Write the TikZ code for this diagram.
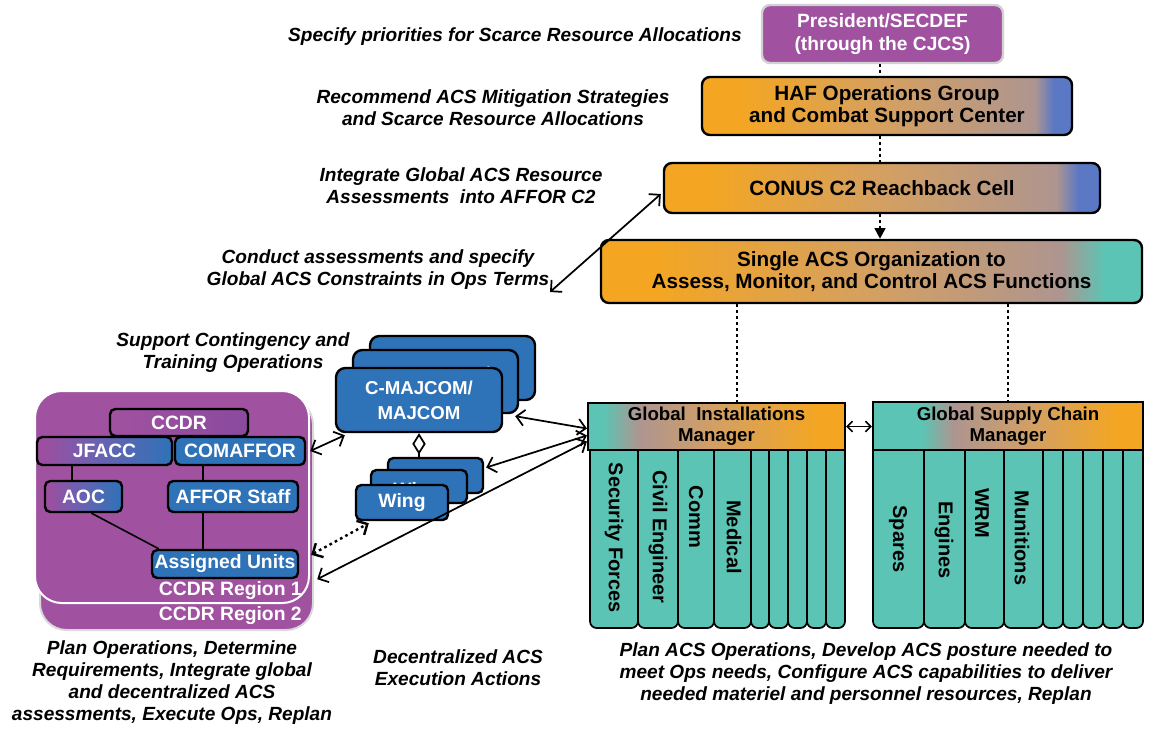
\documentclass[tikz,border=0pt]{standalone}
\usepackage{fontspec}
\setmainfont{Liberation Sans}
\usetikzlibrary{arrows.meta,calc}
\definecolor{cPurple}{HTML}{A052A0}
\definecolor{cCcdr}{HTML}{8A4A9E}
\definecolor{cBlue}{HTML}{2E72B8}
\definecolor{cTeal}{HTML}{5CC4B4}
\definecolor{cOr}{HTML}{F4A622}
\definecolor{cTan}{HTML}{D4A062}
\definecolor{cMauve}{HTML}{AE9590}
\definecolor{cSlate}{HTML}{5B78C4}
\definecolor{cJpur}{HTML}{A24C9E}
\definecolor{cJmid}{HTML}{7060B0}
\pgfdeclarehorizontalshading{hafshade}{100bp}{color(0bp)=(cOr); color(30bp)=(cOr); color(50bp)=(cTan); color(70bp)=(cMauve); color(72.5bp)=(cSlate); color(100bp)=(cSlate)}
\pgfdeclarehorizontalshading{acsshade}{100bp}{color(0bp)=(cOr); color(30bp)=(cOr); color(50bp)=(cTan); color(67.5bp)=(cMauve); color(71.5bp)=(cTeal); color(100bp)=(cTeal)}
\pgfdeclarehorizontalshading{gimshade}{100bp}{color(0bp)=(cTeal); color(28bp)=(cTeal); color(35bp)=(cMauve); color(50bp)=(cTan); color(70bp)=(cOr); color(100bp)=(cOr)}
\pgfdeclarehorizontalshading{gscshade}{100bp}{color(0bp)=(cTeal); color(34bp)=(cTeal); color(40bp)=(cMauve); color(55bp)=(cTan); color(70bp)=(cOr); color(100bp)=(cOr)}
\pgfdeclarehorizontalshading{jshade}{100bp}{color(0bp)=(cJpur); color(25bp)=(cJpur); color(45bp)=(cJmid); color(75bp)=(cBlue); color(100bp)=(cBlue)}
\pgfdeclarehorizontalshading{cshade}{100bp}{color(0bp)=(cPurple); color(25bp)=(cPurple); color(75bp)=(cCcdr); color(100bp)=(cCcdr)}
\tikzset{
  box/.style={draw=black, line width=1.8pt, rounded corners=6pt, inner sep=0pt, align=center,
    font=\bfseries\fontsize{15.5}{17}\selectfont},
  smallbox/.style={box, rounded corners=4pt, font=\bfseries\fontsize{14.5}{16}\selectfont},
  bluebox/.style={smallbox, fill=cBlue, text=white},
  lab/.style={font=\bfseries\itshape\fontsize{14.3}{16.5}\selectfont, align=center, inner sep=0pt},
  link/.style={line width=1.3pt, {Straight Barb[length=6pt,width=12pt]}-{Straight Barb[length=6pt,width=12pt]}},
  dots/.style={line width=1.8pt, dash pattern=on 2pt off 2.5pt},
  col/.style={draw=black, line width=1.3pt, fill=cTeal, rounded corners=5pt, inner sep=0pt},
  coltext/.style={rotate=-90, font=\bfseries\fontsize{15}{16}\selectfont, inner sep=0pt},
  hdr/.style={draw=black, line width=1.6pt, shade, inner sep=0pt, align=center,
    font=\bfseries\fontsize{14}{15.5}\selectfont},
  tree/.style={line width=1.2pt},
}
% \bx{name}{style}{x1}{y1}{x2}{y2}{text}  -- a node covering the pixel box
\newcommand{\bx}[7]{\node[#2, minimum width={(#5-#3)*0.75pt}, minimum height={(#6-#4)*0.75pt}]
  (#1) at ({(#3+#5)/2},{(#4+#6)/2}) {#7};}
\begin{document}
\begin{tikzpicture}[x=0.75pt,y=-0.75pt]
\useasboundingbox[fill=white] (0,0) rectangle (1151,729);

% ---------- top chain ----------
\bx{pres}{box, fill=cPurple, draw=black!18, text=white, font=\bfseries\fontsize{14.4}{17}\selectfont}{762}{5}{1003}{63}{President/SECDEF\\(through the CJCS)}
\bx{haf}{box, shade, shading=hafshade}{702}{77}{1072}{135}{HAF Operations Group\\and Combat Support Center}
\bx{conus}{box, shade, shading=hafshade}{664}{163}{1100}{213}{CONUS C2 Reachback Cell}
\bx{acs}{box, shade, shading=acsshade}{601}{240}{1142}{303}{Single ACS Organization to\\Assess, Monitor, and Control ACS Functions}

\coordinate (xm) at (880,0);
\coordinate (xg) at (737,0);
\coordinate (xs) at (1008,0);
\draw[dots] (pres.south -| xm) -- (haf.north -| xm);
\draw[dots] (haf.south -| xm) -- (conus.north -| xm);
\draw[dots, -{Triangle[length=8pt,width=8pt]}] (conus.south -| xm) -- (acs.north -| xm);

% ---------- italic labels ----------
\node[lab] (l1) at (515,37) {Specify priorities for Scarce Resource Allocations};
\node[lab] (l2) at (493,108) {Recommend ACS Mitigation Strategies\\and Scarce Resource Allocations};
\node[lab] (l3) at (461,186) {Integrate Global ACS Resource\\Assessments\ \ into AFFOR C2};
\node[lab] (l4) at (378,270) {Conduct assessments and specify\\Global ACS Constraints in Ops Terms};
\node[lab] (l5) at (233,353) {Support Contingency and\\Training Operations};
\node[lab] (l6) at (172,683) {Plan Operations, Determine\\Requirements, Integrate global\\and decentralized ACS\\assessments, Execute Ops, Replan};
\node[lab] (l7) at (458,668) {Decentralized ACS\\Execution Actions};
\node[lab] (l8) at (866,674) {Plan ACS Operations, Develop ACS posture needed to\\meet Ops needs, Configure ACS capabilities to deliver\\needed materiel and personnel resources, Replan};

\coordinate (a4) at (550,292);
\draw[link] (a4) -- ($(conus.west)+(-2,6)$);

% ---------- global managers ----------
\foreach \a/\b [count=\i] in {590/638,638/678,678/714,714/751,751/769,769/788,788/807,807/826,826/845}
  {\bx{gc\i}{col}{\a}{444}{\b}{628}{}}
\foreach \a/\b [count=\i] in {873/924,924/965,965/1004,1004/1043,1043/1063,1063/1083,1083/1103,1103/1123,1123/1143}
  {\bx{sc\i}{col}{\a}{444}{\b}{628}{}}
\bx{gim}{hdr, shading=gimshade}{588}{403}{845}{450}{Global\ \ Installations\\Manager}
\bx{gsc}{hdr, shading=gscshade}{873}{402}{1143}{450}{Global Supply Chain\\Manager}

\node[coltext] (t1) at (614,538) {Security Forces};
\node[coltext] (t2) at (658,537) {Civil Engineer};
\node[coltext] (t3) at (696,517) {Comm};
\node[coltext] (t4) at (734,537) {Medical};
\node[coltext] (t5) at (898,539) {Spares};
\node[coltext] (t6) at (944,540) {Engines};
\node[coltext] (t7) at (982,513) {WRM};
\node[coltext] (t8) at (1022,538) {Munitions};

\draw[dots] (acs.south -| xg) -- (gim.north -| xg);
\draw[dots] (acs.south -| xs) -- (gsc.north -| xs);
\draw[line width=1.2pt, {Straight Barb[length=4pt,width=8pt]}-{Straight Barb[length=4pt,width=8pt]}] (gim.east) -- (gim.east -| gsc.west);

% ---------- CCDR regions ----------
\bx{reg2}{draw=black!15, line width=1.5pt, fill=cPurple, rounded corners=20pt, inner sep=0pt}{40}{398}{313}{630}{}
\bx{reg1}{draw=white, line width=1.5pt, fill=cPurple, rounded corners=20pt, inner sep=0pt}{35}{391}{309}{603}{}
\node[anchor=east, inner sep=0pt, text=white, font=\bfseries\fontsize{14.5}{16}\selectfont] (r1lab) at (302,591) {CCDR Region 1};
\node[anchor=east, inner sep=0pt, text=white, font=\bfseries\fontsize{14.5}{16}\selectfont] (r2lab) at (302,616) {CCDR Region 2};

\bx{ccdr}{smallbox, shade, shading=cshade, text=white}{110}{409}{248}{436}{CCDR}
\bx{jfacc}{smallbox, shade, shading=jshade, text=white}{37}{437}{172}{465}{JFACC}
\bx{comaffor}{bluebox}{175}{437}{305}{465}{COMAFFOR}
\bx{aoc}{smallbox, shade, shading=jshade, text=white}{45}{481}{122}{512}{AOC}
\bx{affor}{bluebox}{168}{481}{298}{512}{AFFOR Staff}
\bx{assigned}{bluebox}{152}{550}{298}{578}{Assigned Units}

\coordinate (xa) at (203,0);
\coordinate (xj) at (72,0);
\draw[tree] (jfacc.south -| xj) -- (aoc.north -| xj);
\draw[tree] (comaffor.south -| xa) -- (affor.north -| xa);
\draw[tree] ($(aoc.south)+(8,0)$) -- ($(assigned.north west)+(8,0)$);
\draw[tree] (affor.south -| xa) -- (assigned.north -| xa);

% ---------- C-MAJCOM and Wing stacks ----------
\bx{cm3}{bluebox, rounded corners=7pt}{370}{336}{535}{400}{}
\bx{cm2}{bluebox, rounded corners=7pt}{353}{350}{518}{413}{}
\node[inner sep=0pt, text=white, font=\bfseries\fontsize{14}{16}\selectfont] (cm2t) at (436,374) {C-MAJCOM/};
\bx{cm1}{bluebox, rounded corners=7pt, font=\bfseries\fontsize{14}{19}\selectfont}{336}{368}{502}{432}{C-MAJCOM/\\MAJCOM}

\bx{w3}{bluebox}{388}{458}{483}{493}{}
\bx{w2}{bluebox}{371}{470}{467}{503}{}
\node[inner sep=0pt, text=white, font=\bfseries\fontsize{14.5}{16}\selectfont] (w2t) at (417,492) {Wing};
\bx{w1}{bluebox}{356}{485}{448}{520}{Wing}

\coordinate (xd) at (419,0);
\draw[line width=1.3pt, {Diamond[open, length=16pt, width=10pt, line width=1.3pt]}-] (cm1.south -| xd) -- (w3.north -| xd);

% ---------- connectors ----------
\draw[link] ($(comaffor.east)+(4,0)$) -- ($(cm1.south west)+(10,2)$);
\draw[link] ($(cm2.south east)+(-4,2)$) -- ($(gim.west)+(0,2)$);
\draw[link] ($(w3.east)+(2,-8)$) -- ($(gim.west)+(0,9)$);
\draw[link] ($(assigned.south east)+(18,0)$) -- ($(gim.west)+(0,15)$);
\draw[dots, {Straight Barb[length=6pt,width=12pt]}-{Straight Barb[length=6pt,width=12pt]}] ($(assigned.north east)+(12,6)$) -- ($(w1.south west)+(14,2)$);
\end{tikzpicture}
\end{document}
